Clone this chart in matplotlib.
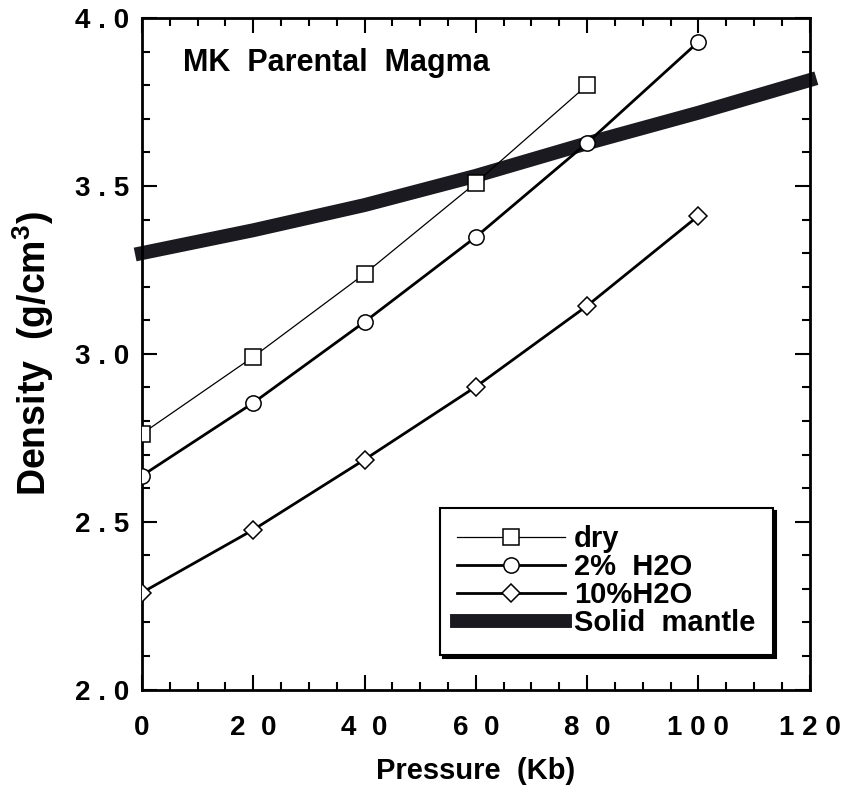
import matplotlib.pyplot as plt
from matplotlib.ticker import MultipleLocator, FixedLocator

# Data (pressure in Kb, density in g/cm3)
pressure = [0, 20, 40, 60, 80, 100]
dry = [2.762, 2.991, 3.238, 3.509, 3.800]
h2o_2 = [2.637, 2.854, 3.095, 3.348, 3.628, 3.929]
h2o_10 = [2.289, 2.476, 2.685, 2.902, 3.143, 3.411]
mantle_p = [0, 20, 40, 60, 80, 100, 120]
mantle = [3.300, 3.368, 3.443, 3.530, 3.627, 3.718, 3.815]

xticks = [0, 20, 40, 60, 80, 100, 120]
xticklabels = ["0", "2  0", "4  0", "6  0", "8  0", "1 0 0", "1 2 0"]
yticks = [2.0, 2.5, 3.0, 3.5, 4.0]
yticklabels = ["2 . 0", "2 . 5", "3 . 0", "3 . 5", "4 . 0"]

plt.rcParams['font.family'] = ['Liberation Sans', 'DejaVu Sans']
plt.rcParams['font.weight'] = 'bold'
plt.rcParams['mathtext.fontset'] = 'custom'
plt.rcParams['mathtext.rm'] = 'Liberation Sans:bold'
plt.rcParams['mathtext.it'] = 'Liberation Sans:bold'
plt.rcParams['mathtext.bf'] = 'Liberation Sans:bold'

fig = plt.figure(figsize=(8.55, 8.01), dpi=100)
ax = fig.add_axes([0.166, 0.139, 0.781, 0.8385])

# thick solid mantle curve underneath
ax.plot(mantle_p, mantle, color='#1b1a20', lw=10, solid_capstyle='projecting',
        clip_on=False, zorder=2, label='Solid  mantle')
ax.plot(pressure[:len(dry)], dry, color='k', lw=0.9, marker='s', ms=11,
        mfc='white', mec='k', mew=1.1, zorder=3, label='dry')
ax.plot(pressure, h2o_2, color='k', lw=2.0, marker='o', ms=11,
        mfc='white', mec='k', mew=1.1, zorder=3, label='2%  H2O')
ax.plot(pressure, h2o_10, color='k', lw=2.0, marker='D', ms=9.5,
        mfc='white', mec='k', mew=1.1, zorder=3, label='10%H2O')

ax.set_xlim(0, 120)
ax.set_ylim(2.0, 4.0)
ax.xaxis.set_major_locator(FixedLocator(xticks))
ax.set_xticklabels(xticklabels)
ax.xaxis.set_minor_locator(MultipleLocator(5))
ax.yaxis.set_major_locator(FixedLocator(yticks))
ax.set_yticklabels(yticklabels)
ax.yaxis.set_minor_locator(MultipleLocator(0.1))

ax.tick_params(which='both', direction='in', top=True, right=True, width=1.5)
ax.tick_params(which='major', length=11, labelsize=20)
ax.tick_params(which='minor', length=6)
ax.tick_params(axis='x', which='major', pad=18)
ax.tick_params(axis='y', which='major', pad=9)
for s in ax.spines.values():
    s.set_linewidth(2)

ax.set_xlabel('Pressure  (Kb)', fontsize=21, fontweight='bold', labelpad=12)
ax.set_ylabel(r'Density  (g/cm$^{3}$)', fontsize=27, fontweight='bold', labelpad=14)

ax.text(0.061, 0.933, 'MK  Parental  Magma', transform=ax.transAxes,
        fontsize=22, fontweight='bold', va='center', ha='left')

handles, labels = ax.get_legend_handles_labels()
order = [1, 2, 3, 0]
leg = ax.legend([handles[i] for i in order], [labels[i] for i in order],
                loc='lower right', bbox_to_anchor=(0.945, 0.052),
                fontsize=21, frameon=True, fancybox=False,
                shadow={'color': 'k', 'alpha': 1},
                handlelength=3.7, handletextpad=0.3, labelspacing=0.0,
                borderpad=0.6, borderaxespad=0)
leg.get_frame().set_edgecolor('k')
leg.get_frame().set_linewidth(1.5)
leg.get_frame().set_alpha(1)

fig.savefig('out.png', dpi=100)
